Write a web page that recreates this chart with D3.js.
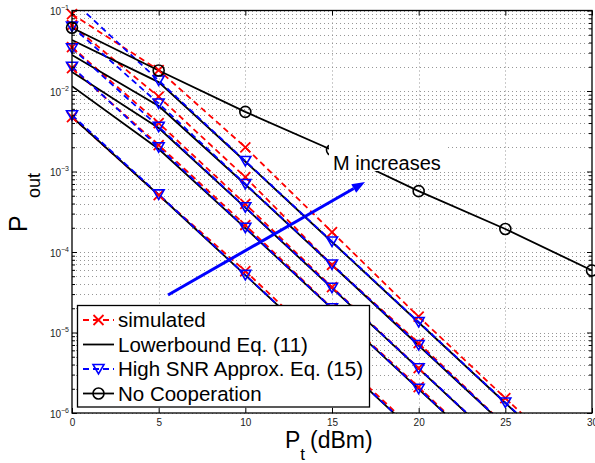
<!DOCTYPE html>
<html>
<head>
<meta charset="utf-8">
<script src="https://cdn.jsdelivr.net/npm/d3@7"></script>
<style>
  body { margin: 0; background: #fff; }
  svg { font-family: "Liberation Sans", Arial, sans-serif; }
</style>
</head>
<body>
<svg id="chart" width="595" height="463"></svg>
<script>
// transmit power (dBm)
const pt = [0, 5, 10, 15, 20, 25, 30];

// simulated outage, one array per M (bottom curve = smallest M)
const simM1 = [4.75e-3, 5.1e-4, 5.8e-5, 5.6e-6, 5.5e-7, 5.5e-8, 5.5e-9];
const simM2 = [1.93e-2, 2.13e-3, 2.16e-4, 2.01e-5, 2.1e-6, 2.0e-7, 2.0e-8];
const simM3 = [3.5e-2, 4.0e-3, 3.95e-4, 3.67e-5, 3.62e-6, 3.5e-7, 3.5e-8];
const simM4 = [6.6e-2, 8.5e-3, 8.5e-4, 6.9e-5, 7.4e-6, 7.0e-7, 7.0e-8];
const simM5 = [9.0e-2, 1.82e-2, 2.0e-3, 1.77e-4, 1.57e-5, 1.53e-6, 1.5e-7];

// lower bound, Eq. (11)
const lbM1 = [4.75e-3, 5.1e-4, 5.15e-5, 5.15e-6, 5.15e-7, 5.15e-8, 5.15e-9];
const lbM2 = [1.15e-2, 1.9e-3, 1.98e-4, 1.98e-5, 1.98e-6, 1.98e-7, 1.98e-8];
const lbM3 = [1.72e-2, 3.47e-3, 3.55e-4, 3.55e-5, 3.55e-6, 3.55e-7, 3.55e-8];
const lbM4 = [2.8e-2, 6.5e-3, 6.9e-4, 6.9e-5, 6.9e-6, 6.9e-7, 6.9e-8];
const lbM5 = [4.3e-2, 1.29e-2, 1.33e-3, 1.33e-4, 1.33e-5, 1.33e-6, 1.33e-7];

// high SNR approximation, Eq. (15)
const apM1 = [5.0e-3, 5.2e-4, 5.2e-5, 5.2e-6, 5.2e-7, 5.2e-8, 5.2e-9];
const apM2 = [2.0e-2, 2.0e-3, 2.0e-4, 2.0e-5, 2.0e-6, 2.0e-7, 2.0e-8];
const apM3 = [3.4e-2, 3.6e-3, 3.6e-4, 3.6e-5, 3.6e-6, 3.6e-7, 3.6e-8];
const apM4 = [6.3e-2, 7.0e-3, 7.0e-4, 7.0e-5, 7.0e-6, 7.0e-7, 7.0e-8];
const apM5 = [1.35e-1, 1.35e-2, 1.35e-3, 1.35e-4, 1.35e-5, 1.35e-6, 1.35e-7];

// no cooperation
const noCoop = [6.1e-2, 1.8e-2, 5.5e-3, 1.85e-3, 5.7e-4, 1.93e-4, 5.9e-5];

const yExponents = [-6, -5, -4, -3, -2, -1];
const legendLabels = ["simulated", "Lowerbound Eq. (11)", "High SNR Approx. Eq. (15)", "No Cooperation"];

const simSeries = [simM1, simM2, simM3, simM4, simM5];
const lbSeries = [lbM1, lbM2, lbM3, lbM4, lbM5];
const apSeries = [apM1, apM2, apM3, apM4, apM5];

const plot = {left: 72, right: 592, top: 10.5, bottom: 413};
const RED = "#ff0000", BLUE = "#0000ff";

const x = d3.scaleLinear().domain([0, 30]).range([plot.left, plot.right]);
const y = d3.scaleLog().domain([1e-6, 1e-1]).range([plot.bottom, plot.top]);

const svg = d3.select("#chart");
svg.append("rect").attr("width", 595).attr("height", 463).attr("fill", "#fff");

svg.append("defs").append("clipPath").attr("id", "plot-clip")
    .append("rect")
    .attr("x", plot.left).attr("y", plot.top)
    .attr("width", plot.right - plot.left).attr("height", plot.bottom - plot.top);

// minor log values for grid + ticks
const majorY = yExponents.map(e => Math.pow(10, e));
const minorY = [];
majorY.slice(0, -1).forEach(d => { for (let k = 2; k < 10; k++) minorY.push(k * d); });

// grid
const grid = svg.append("g")
    .attr("stroke", "#8a8a8a")
    .attr("stroke-width", 0.9)
    .attr("stroke-dasharray", "1,3");
grid.selectAll(".hgrid")
    .data(majorY.concat(minorY))
    .join("line")
    .attr("x1", plot.left).attr("x2", plot.right)
    .attr("y1", d => Math.round(y(d)) + 0.5).attr("y2", d => Math.round(y(d)) + 0.5);
grid.selectAll(".vgrid")
    .data(pt.slice(1, -1))
    .join("line")
    .attr("x1", d => Math.round(x(d)) + 0.5).attr("x2", d => Math.round(x(d)) + 0.5)
    .attr("y1", plot.top).attr("y2", plot.bottom);

const line = d3.line()
    .x(d => x(d[0]))
    .y(d => y(d[1]));
const pairs = vals => pt.map((p, i) => [p, vals[i]]);
const inside = d => d[1] <= 1e-1 && d[1] >= 1e-6;

const lines = svg.append("g").attr("clip-path", "url(#plot-clip)").attr("fill", "none");

lines.selectAll(".sim")
    .data(simSeries)
    .join("path")
    .attr("d", d => line(pairs(d)))
    .attr("stroke", RED).attr("stroke-width", 1.8).attr("stroke-dasharray", "6,4");

lines.selectAll(".lb")
    .data(lbSeries)
    .join("path")
    .attr("class", "lb")
    .attr("d", d => line(pairs(d)))
    .attr("stroke", "#000").attr("stroke-width", 1.8);

lines.selectAll(".ap")
    .data(apSeries)
    .join("path")
    .attr("class", "ap")
    .attr("d", d => line(pairs(d)))
    .attr("stroke", BLUE).attr("stroke-width", 1.8).attr("stroke-dasharray", "6,4");

lines.append("path")
    .attr("d", line(pairs(noCoop)))
    .attr("stroke", "#000").attr("stroke-width", 1.8);

// marker shapes
const xMark = (g, s) => g.append("path")
    .attr("d", `M${-s},${-s}L${s},${s}M${-s},${s}L${s},${-s}`)
    .attr("stroke", RED).attr("stroke-width", 1.8).attr("fill", "none");
const triMark = g => g.append("path")
    .attr("d", "M-5.5,-4.5L5.5,-4.5L0,5Z")
    .attr("stroke", BLUE).attr("stroke-width", 1.6).attr("fill", "none");
const circMark = g => g.append("circle")
    .attr("r", 5.5)
    .attr("stroke", "#000").attr("stroke-width", 1.6).attr("fill", "none");

const markers = svg.append("g");
simSeries.forEach(s => {
    pairs(s).filter(inside).forEach(d => {
        const g = markers.append("g").attr("transform", `translate(${x(d[0])},${y(d[1])})`);
        xMark(g, 5);
    });
});
apSeries.forEach(s => {
    pairs(s).filter(inside).forEach(d => {
        const g = markers.append("g").attr("transform", `translate(${x(d[0])},${y(d[1])})`);
        triMark(g);
    });
});
pairs(noCoop).filter(inside).forEach(d => {
    const g = markers.append("g").attr("transform", `translate(${x(d[0])},${y(d[1])})`);
    circMark(g);
});

// annotation (its white box hides part of the no-cooperation curve)
svg.append("rect")
    .attr("x", 329).attr("y", 141).attr("width", 119).attr("height", 30)
    .attr("fill", "#fff");
svg.append("text")
    .attr("x", 333).attr("y", 170)
    .attr("font-size", 20)
    .text("M increases");

const a0 = [168, 295], a1 = [365, 182];
const ang = Math.atan2(a1[1] - a0[1], a1[0] - a0[0]);
const headLen = 13, headW = 5;
const base = [a1[0] - headLen * Math.cos(ang), a1[1] - headLen * Math.sin(ang)];
svg.append("line")
    .attr("x1", a0[0]).attr("y1", a0[1]).attr("x2", base[0]).attr("y2", base[1])
    .attr("stroke", BLUE).attr("stroke-width", 3);
svg.append("path")
    .attr("d", `M${a1[0]},${a1[1]}L${base[0] - headW * Math.sin(ang)},${base[1] + headW * Math.cos(ang)}L${base[0] + headW * Math.sin(ang)},${base[1] - headW * Math.cos(ang)}Z`)
    .attr("fill", BLUE);

// axes ticks
const tickStyle = g => {
    g.select(".domain").remove();
    g.selectAll(".tick line").attr("stroke", "#000").attr("stroke-width", 1);
};
svg.append("g")
    .attr("transform", `translate(0,${plot.bottom})`)
    .call(d3.axisBottom(x).tickValues(pt).tickSize(-5).tickPadding(6).tickFormat(d3.format("d")))
    .call(tickStyle)
    .call(g => g.selectAll(".tick text")
        .attr("font-size", 10).attr("fill", "#222")
        .attr("font-family", "Liberation Sans, Arial, sans-serif"));
svg.append("g")
    .attr("transform", `translate(0,${plot.top})`)
    .call(d3.axisTop(x).tickValues(pt).tickSize(-5).tickFormat(""))
    .call(tickStyle);
svg.append("g")
    .attr("transform", `translate(${plot.left},0)`)
    .call(d3.axisLeft(y).tickValues(majorY).tickSize(-5).tickFormat(""))
    .call(tickStyle);
svg.append("g")
    .attr("transform", `translate(${plot.left},0)`)
    .call(d3.axisLeft(y).tickValues(minorY).tickSize(-3).tickFormat(""))
    .call(tickStyle);
svg.append("g")
    .attr("transform", `translate(${plot.right},0)`)
    .call(d3.axisRight(y).tickValues(majorY).tickSize(-5).tickFormat(""))
    .call(tickStyle);
svg.append("g")
    .attr("transform", `translate(${plot.right},0)`)
    .call(d3.axisRight(y).tickValues(minorY).tickSize(-3).tickFormat(""))
    .call(tickStyle);

// y tick labels 10^e
const yLab = svg.append("g").attr("fill", "#222").attr("text-anchor", "end");
yExponents.forEach(e => {
    const t = yLab.append("text")
        .attr("x", 69).attr("y", y(Math.pow(10, e)) + 4.5);
    t.append("tspan").attr("font-size", 10).text("10");
    t.append("tspan").attr("font-size", 7).attr("dy", -5).text("\u2212" + Math.abs(e));
});

// frame
svg.append("rect")
    .attr("x", plot.left).attr("y", plot.top)
    .attr("width", plot.right - plot.left).attr("height", plot.bottom - plot.top)
    .attr("fill", "none").attr("stroke", "#000").attr("stroke-width", 1.3);

// axis labels
svg.append("text")
    .attr("transform", "translate(27,232) rotate(-90)")
    .attr("font-size", 25).text("P");
svg.append("text")
    .attr("transform", "translate(40,198) rotate(-90)")
    .attr("font-size", 18).text("out");

const xl = svg.append("text").attr("x", 285).attr("y", 448).attr("font-size", 23);
xl.append("tspan").text("P");
xl.append("tspan").attr("font-size", 17).attr("dy", 12).text("t");
xl.append("tspan").attr("dy", -12).attr("dx", 5).text("(dBm)");

// legend
const legend = svg.append("g");
legend.append("rect")
    .attr("x", 77.5).attr("y", 305.5).attr("width", 292).attr("height", 101.5)
    .attr("fill", "#fff").attr("stroke", "#000").attr("stroke-width", 1.3);
const rowY = [320, 344.5, 369, 393.5];
const legStyles = [
    {stroke: RED, dash: "6,4"},
    {stroke: "#000", dash: null},
    {stroke: BLUE, dash: "6,4"},
    {stroke: "#000", dash: null}
];
legendLabels.forEach((lab, i) => {
    const ry = rowY[i];
    legend.append("line")
        .attr("x1", 83).attr("x2", 114).attr("y1", ry).attr("y2", ry)
        .attr("stroke", legStyles[i].stroke).attr("stroke-width", 1.8)
        .attr("stroke-dasharray", legStyles[i].dash);
    const g = legend.append("g").attr("transform", `translate(98.5,${ry})`);
    if (i === 0) xMark(g, 5);
    if (i === 2) triMark(g);
    if (i === 3) circMark(g);
    legend.append("text")
        .attr("x", 118).attr("y", ry + 7)
        .attr("font-size", 20.5)
        .text(lab);
});
</script>
</body>
</html>
